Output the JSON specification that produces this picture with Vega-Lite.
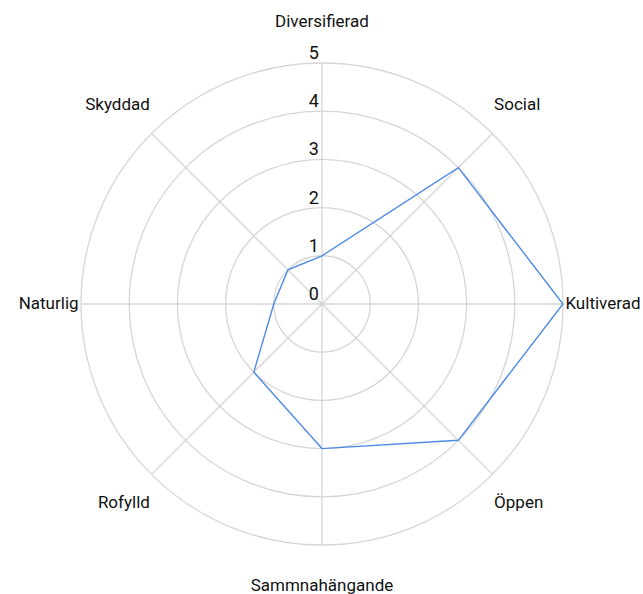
{
  "$schema": "https://vega.github.io/schema/vega-lite/v6.json",
  "width": 643,
  "height": 594,
  "autosize": "none",
  "padding": 0,
  "background": "white",
  "config": {"view": {"stroke": null}, "text": {"font": "Roboto", "color": "#111111"}},
  "datasets": {
    "axes": [
      {"axis": "Diversifierad", "idx": 0, "value": 1},
      {"axis": "Social", "idx": 1, "value": 4},
      {"axis": "Kultiverad", "idx": 2, "value": 5},
      {"axis": "Öppen", "idx": 3, "value": 4},
      {"axis": "Sammnahängande", "idx": 4, "value": 3},
      {"axis": "Rofylld", "idx": 5, "value": 2},
      {"axis": "Naturlig", "idx": 6, "value": 1},
      {"axis": "Skyddad", "idx": 7, "value": 1}
    ],
    "rings": [{"r": 0}, {"r": 1}, {"r": 2}, {"r": 3}, {"r": 4}, {"r": 5}]
  },
  "layer": [
    {
      "data": {"name": "rings"},
      "transform": [{"filter": "datum.r > 0"}, {"calculate": "0", "as": "cx"}, {"calculate": "0", "as": "cy"}],
      "mark": {"type": "point", "shape": "circle", "filled": false, "color": "#d6d6d6", "strokeWidth": 1.3, "opacity": 1},
      "encoding": {
        "x": {"field": "cx", "type": "quantitative", "scale": {"domain": [-6.68, 6.66], "nice": false, "zero": false}, "axis": null},
        "y": {"field": "cy", "type": "quantitative", "scale": {"domain": [-6.017, 6.307], "nice": false, "zero": false}, "axis": null},
        "size": {"field": "r", "type": "quantitative", "scale": {"type": "pow", "exponent": 2, "domain": [0, 5], "range": [0, 232324]}, "legend": null}
      }
    },
    {
      "data": {"name": "axes"},
      "transform": [
        {"calculate": "0", "as": "cx"},
        {"calculate": "0", "as": "cy"},
        {"calculate": "5 * sin(datum.idx * PI / 4)", "as": "sx"},
        {"calculate": "5 * cos(datum.idx * PI / 4)", "as": "sy"}
      ],
      "mark": {"type": "rule", "color": "#d6d6d6", "strokeWidth": 1.3},
      "encoding": {
        "x": {"field": "cx", "type": "quantitative"},
        "y": {"field": "cy", "type": "quantitative"},
        "x2": {"field": "sx"},
        "y2": {"field": "sy"}
      }
    },
    {
      "data": {"name": "axes"},
      "transform": [
        {"calculate": "datum.value * sin(datum.idx * PI / 4)", "as": "px"},
        {"calculate": "datum.value * cos(datum.idx * PI / 4)", "as": "py"}
      ],
      "mark": {"type": "line", "interpolate": "linear-closed", "color": "#4f8ae6", "strokeWidth": 1.4},
      "encoding": {
        "x": {"field": "px", "type": "quantitative"},
        "y": {"field": "py", "type": "quantitative"},
        "order": {"field": "idx", "type": "quantitative"}
      }
    },
    {
      "data": {"name": "rings"},
      "transform": [{"calculate": "0", "as": "cx"}],
      "mark": {"type": "text", "align": "right", "baseline": "alphabetic", "dx": -3, "dy": -4, "fontSize": 18},
      "encoding": {
        "x": {"field": "cx", "type": "quantitative"},
        "y": {"field": "r", "type": "quantitative"},
        "text": {"field": "r", "type": "quantitative"}
      }
    },
    {
      "data": {"name": "axes"},
      "transform": [
        {"calculate": "5.05 * sin(datum.idx * PI / 4)", "as": "lx"},
        {"calculate": "5.85 * cos(datum.idx * PI / 4)", "as": "ly"},
        {"filter": "abs(datum.lx) < 0.01"}
      ],
      "mark": {"type": "text", "align": "center", "baseline": "middle", "fontSize": 17},
      "encoding": {
        "x": {"field": "lx", "type": "quantitative"},
        "y": {"field": "ly", "type": "quantitative"},
        "text": {"field": "axis"}
      }
    },
    {
      "data": {"name": "axes"},
      "transform": [
        {"calculate": "5.05 * sin(datum.idx * PI / 4)", "as": "lx"},
        {"calculate": "5.85 * cos(datum.idx * PI / 4)", "as": "ly"},
        {"filter": "datum.lx > 0.01"}
      ],
      "mark": {"type": "text", "align": "left", "baseline": "middle", "fontSize": 17},
      "encoding": {
        "x": {"field": "lx", "type": "quantitative"},
        "y": {"field": "ly", "type": "quantitative"},
        "text": {"field": "axis"}
      }
    },
    {
      "data": {"name": "axes"},
      "transform": [
        {"calculate": "5.05 * sin(datum.idx * PI / 4)", "as": "lx"},
        {"calculate": "5.85 * cos(datum.idx * PI / 4)", "as": "ly"},
        {"filter": "datum.lx < -0.01"}
      ],
      "mark": {"type": "text", "align": "right", "baseline": "middle", "fontSize": 17},
      "encoding": {
        "x": {"field": "lx", "type": "quantitative"},
        "y": {"field": "ly", "type": "quantitative"},
        "text": {"field": "axis"}
      }
    }
  ]
}
